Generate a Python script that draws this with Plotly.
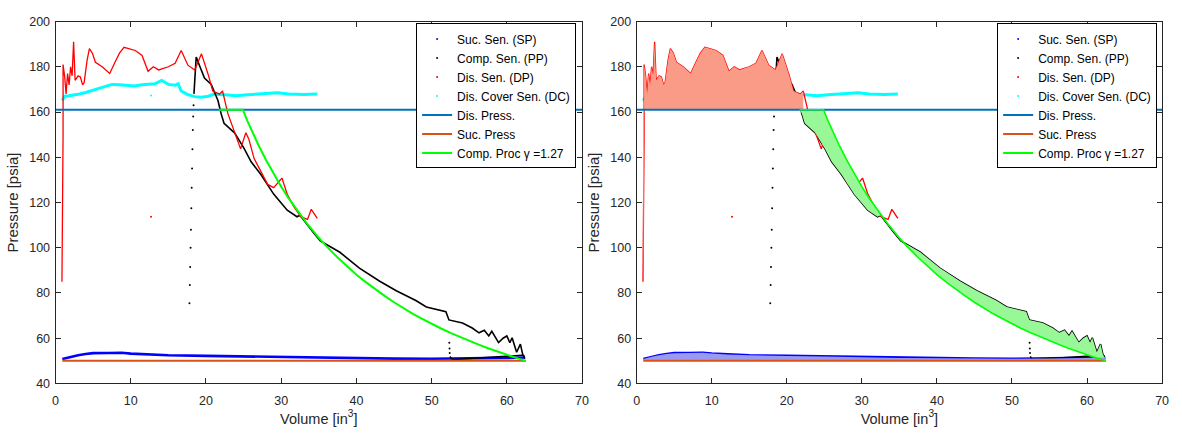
import plotly.graph_objects as go

# ---------------- data (volume in in^3, pressure in psia) ----------------
# Discharge sensor (DP)
dp_vol = [0.85, 0.9, 0.95, 1.0, 1.0, 1.0, 1.2, 1.4, 1.6, 1.8, 2.0, 2.2, 2.4, 2.6, 3.0, 3.3, 3.6,
          3.8, 4.2, 4.5, 4.9, 5.3, 6.2, 7.2, 7.9, 8.5, 9.1, 10.6, 11.5, 12.3, 13.0, 13.7, 15.0,
          15.9, 16.7, 17.6, 18.5, 19.4, 20.3, 20.9, 21.8, 22.2, 22.9, 23.8, 24.6, 25.3, 25.7,
          26.4, 27.3, 28.2, 29.0, 30.1, 30.8, 31.7, 32.6, 33.5, 34.0, 34.8]
dp_prs = [85, 100, 125, 150, 170, 181, 176, 168, 177, 172, 180, 176, 191, 174, 176, 175.5, 172,
          173, 183, 188, 186, 182, 180, 177, 182, 186, 188.6, 187.2, 185, 178, 180, 178.6, 180,
          181.5, 187.2, 180.7, 178.6, 185.7, 176.5, 169.3, 167.9, 169.3, 159.4, 150.8, 143.7, 150.8, 148,
          139.4, 133.7, 128, 126.6, 130.8, 123.7, 118, 113.7, 112.5, 117, 113]

# Discharge cover sensor (DC)
dc_vol = [0.9, 1.2, 1.8, 2.5, 3.2, 4.0, 5.3, 6.5, 7.5, 8.5, 9.5, 10.5, 11.5, 12.3, 13.2, 14.1,
          14.6, 15.0, 15.9, 16.3, 16.7, 17.5, 18.5, 19.4, 20.3, 21.1, 22.9, 24.0, 25.5, 27.3,
          29.5, 31.0, 33.0, 34.8]
dc_prs = [165, 167, 167.2, 167.5, 168, 168.6, 170, 171, 172.2, 172, 171.6, 171.5, 172, 172.2, 172.5, 174,
          173, 172.2, 171.8, 172.5, 169.3, 167.8, 166.8, 166.5, 167, 167.9, 167.5, 167.2, 167.6, 167.9,
          168.5, 168, 167.7, 168]

# Piston pressure sensor (PP): sparse fast-rise samples, compression branch, return branch
pp_rise_vol = [17.8, 17.85, 17.9, 17.95, 18.0, 18.05, 18.1, 18.15, 18.2, 18.25, 18.3, 18.35,
               52.35, 52.38, 52.4]
pp_rise_prs = [75.5, 83.5, 91.5, 100, 108, 117.5, 126.5, 135, 143.5, 152, 158, 163,
               58, 55.5, 53.5]
pp_vol = [18.4, 18.5, 18.7, 19.2, 19.8, 20.7, 21.6, 22.0, 22.4, 23.8, 25.1, 26.0, 27.3, 29.0,
          30.8, 32.1, 32.5, 34.3, 35.2, 37.8, 40.4, 43.1, 45.3, 47.9, 49.3, 51.9, 52.3, 54.1,
          55.4, 56.3, 57.0, 57.6, 58.0, 58.9, 59.5, 60.0, 60.4, 60.7, 61.3, 61.8, 62.1, 62.4]
pp_prs = [168, 176, 184.3, 180, 175, 172.2, 165, 159.4, 155, 150.8, 143.7, 138, 132.4, 123.7,
          116.6, 113.7, 114.4, 106.6, 103, 98, 91, 85.2, 81, 76.7, 73.8, 71.7, 68.1, 66.7,
          64.5, 62.4, 63.5, 61, 63.1, 58.1, 60, 61.0, 58, 60.2, 53.8, 57.4, 53, 51]
pp_ret_vol = [52.45, 52.6, 53.0, 54.0, 55.0, 56.0, 58.0, 60.0, 61.0, 62.0, 62.4]
pp_ret_prs = [52, 51, 50.6, 50.8, 51, 51.2, 51.5, 52, 52.3, 52.5, 52]

# Suction sensor (SP)
sp_vol = [0.9, 2, 3, 4, 5, 7, 8.8, 10, 12, 15, 20, 25, 30, 35, 40, 45, 50, 55, 60, 62.4]
sp_prs = [50.8, 51.8, 52.5, 53, 53.4, 53.5, 53.6, 53.2, 52.8, 52.5, 52.2, 51.9, 51.6, 51.3, 51.2,
          51, 50.9, 51, 51.3, 51.5]

# Stray samples
stray_dp = ([12.7], [113.7])
stray_dc = ([12.7], [167.3])

# Reference pressures
dis_press = 161
suc_press = 50
dis_press_vol = [0, 70]
suc_press_vol = [0.9, 62.5]

# Polytropic compression, gamma = 1.27
gamma = 1.27
comp_vol = [21.7, 24.9, 25.5, 26, 27, 28, 29, 30, 31, 32.5, 33.5, 35, 36, 37.5, 38.75, 40, 41.25,
            42.5, 43.75, 45, 46.25, 47.5, 48.75, 50, 51.25, 52.5, 53.75, 55, 56.25, 57.5, 58.75,
            60, 61.25, 62.5]
comp_prs = [161, 161, 156.1, 152.3, 145.2, 138.7, 132.6, 127, 121.8, 114.7, 110.4, 104.4, 100.7,
            95.7, 91.8, 88.1, 84.8, 81.6, 78.7, 75.9, 73.3, 70.8, 68.6, 66.4, 64.3, 62.4, 60.6,
            58.8, 57.2, 55.6, 54.1, 52.7, 51.3, 50]

# ---------------- styling ----------------
FONT = "Liberation Sans, Arial, sans-serif"
AX_COLOR = "#262626"
C_SP, C_PP, C_DP, C_DC = "#0000FF", "#000000", "#FF0000", "#00FFFF"
C_DIS, C_SUC, C_COMP = "#0072BD", "#D95319", "#00FF00"
F_DIS, F_COMP, F_SUC = "#FA9B87", "#98F898", "#9A9AF2"

fig = go.Figure()


def sensor_traces(xa, ya):
    common = dict(showlegend=False, xaxis=xa, yaxis=ya, hoverinfo="skip")
    fig.add_trace(go.Scatter(x=sp_vol, y=sp_prs, mode="lines",
                             line=dict(color=C_SP, width=2.6), **common))
    fig.add_trace(go.Scatter(x=dc_vol, y=dc_prs, mode="lines",
                             line=dict(color=C_DC, width=3), **common))
    fig.add_trace(go.Scatter(x=stray_dc[0], y=stray_dc[1], mode="markers",
                             marker=dict(color=C_DC, size=2), **common))
    fig.add_trace(go.Scatter(x=pp_vol, y=pp_prs, mode="lines",
                             line=dict(color=C_PP, width=1.6), **common))
    fig.add_trace(go.Scatter(x=pp_ret_vol, y=pp_ret_prs, mode="lines",
                             line=dict(color=C_PP, width=1.4), **common))
    fig.add_trace(go.Scatter(x=pp_rise_vol, y=pp_rise_prs, mode="markers",
                             marker=dict(color=C_PP, size=2), **common))
    fig.add_trace(go.Scatter(x=dp_vol, y=dp_prs, mode="lines",
                             line=dict(color=C_DP, width=1.3), **common))
    fig.add_trace(go.Scatter(x=stray_dp[0], y=stray_dp[1], mode="markers",
                             marker=dict(color=C_DP, size=2), **common))


def work_fills(xa, ya):
    common = dict(mode="none", fill="toself", showlegend=False, xaxis=xa, yaxis=ya,
                  hoverinfo="skip")
    # discharge work: DP trace above the discharge line
    n = sum(1 for v in dp_vol if v <= 22.2)
    fx = dp_vol[:n] + [dp_vol[n - 1], dp_vol[0]]
    fy = dp_prs[:n] + [dis_press, dis_press]
    fig.add_trace(go.Scatter(x=fx, y=fy, fillcolor=F_DIS, **common))
    # over-compression: PP trace versus the polytropic curve
    m = [i for i, v in enumerate(pp_vol) if v >= 21.9]
    gx = [pp_vol[i] for i in m] + comp_vol[::-1]
    gy = [pp_prs[i] for i in m] + comp_prs[::-1]
    fig.add_trace(go.Scatter(x=gx, y=gy, fillcolor=F_COMP, **common))
    # suction loss: SP trace above the suction line
    bx = sp_vol + [suc_press_vol[1], suc_press_vol[0]]
    by = sp_prs + [suc_press, suc_press]
    fig.add_trace(go.Scatter(x=bx, y=by, fillcolor=F_SUC, **common))


def reference_lines(xa, ya, comp_width):
    common = dict(mode="lines", showlegend=False, xaxis=xa, yaxis=ya, hoverinfo="skip")
    fig.add_trace(go.Scatter(x=dis_press_vol, y=[dis_press] * 2,
                             line=dict(color=C_DIS, width=2), **common))
    fig.add_trace(go.Scatter(x=suc_press_vol, y=[suc_press] * 2,
                             line=dict(color=C_SUC, width=2), **common))
    fig.add_trace(go.Scatter(x=comp_vol, y=comp_prs,
                             line=dict(color=C_COMP, width=comp_width), **common))


def legend_entries(xa, ya, leg):
    dots = [("Suc. Sen. (SP)", C_SP), ("Comp. Sen. (PP)", C_PP),
            ("Dis. Sen. (DP)", C_DP), ("Dis. Cover Sen. (DC)", C_DC)]
    for name, c in dots:
        fig.add_trace(go.Scatter(x=[None], y=[None], mode="markers", name=name,
                                 marker=dict(color=c, size=2), legend=leg, xaxis=xa, yaxis=ya))
    lines = [("Dis. Press.", C_DIS), ("Suc. Press", C_SUC),
             ("Comp. Proc γ =%.2f" % gamma, C_COMP)]
    for name, c in lines:
        fig.add_trace(go.Scatter(x=[None], y=[None], mode="lines", name=name,
                                 line=dict(color=c, width=2), legend=leg, xaxis=xa, yaxis=ya))


# left: raw sensor traces
sensor_traces("x", "y")
reference_lines("x", "y", 2)
legend_entries("x", "y", "legend")

# right: same traces with the work areas shaded
sensor_traces("x2", "y2")
work_fills("x2", "y2")
reference_lines("x2", "y2", 1.6)
legend_entries("x2", "y2", "legend2")

W, H = 1182, 435
ydom = [1 - 389 / H, 1 - 15 / H]
axis_common = dict(showline=True, linecolor=AX_COLOR, linewidth=1, mirror="ticks",
                   ticks="inside", ticklen=5, tickcolor=AX_COLOR, showgrid=False,
                   zeroline=False, tickfont=dict(family=FONT, size=12.5, color=AX_COLOR))
xcommon = dict(axis_common, range=[0, 70], dtick=10, ticklabelstandoff=6,
               title=dict(text="Volume [in<sup>3</sup>]", font=dict(family=FONT, size=14.5, color=AX_COLOR),
                          standoff=3))
ycommon = dict(axis_common, range=[40, 200], dtick=20, ticklabelstandoff=2,
               title=dict(text="Pressure [psia]", font=dict(family=FONT, size=15, color=AX_COLOR),
                          standoff=6))

legend_common = dict(bgcolor="white", bordercolor="#000000", borderwidth=1,
                     font=dict(family=FONT, size=12, color="#000000"),
                     xanchor="right", yanchor="top", y=1 - 17 / H,
                     tracegroupgap=0, itemwidth=30)

fig.update_layout(
    width=W, height=H,
    margin=dict(l=0, r=0, t=0, b=0),
    paper_bgcolor="white", plot_bgcolor="white",
    font=dict(family=FONT, color=AX_COLOR),
    xaxis=dict(xcommon, domain=[53 / W, 584 / W], anchor="y"),
    yaxis=dict(ycommon, domain=ydom, anchor="x"),
    xaxis2=dict(xcommon, domain=[639 / W, 1169 / W], anchor="y2"),
    yaxis2=dict(ycommon, domain=ydom, anchor="x2"),
    legend=dict(legend_common, x=578 / W),
    legend2=dict(legend_common, x=1164 / W),
)

fig.write_html("out.html")
